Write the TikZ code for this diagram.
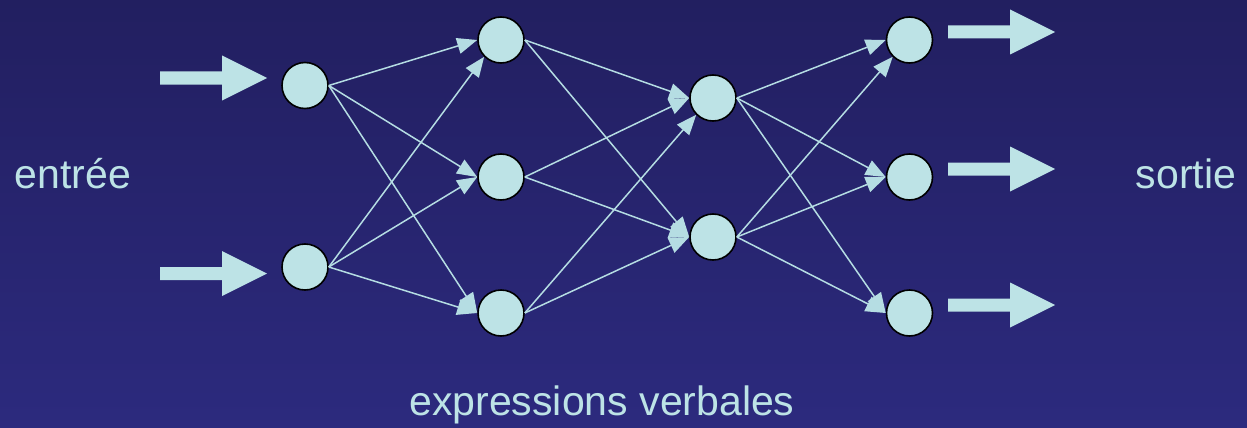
\documentclass[tikz,border=0pt]{standalone}
\usepackage{fontspec}
\setmainfont{Liberation Sans}
\usetikzlibrary{arrows.meta}
\definecolor{bgtop}{HTML}{221F60}
\definecolor{bgbot}{HTML}{2C2A7E}
\definecolor{neuron}{HTML}{BDE3E6}
\definecolor{wire}{HTML}{B5DDE3}
\tikzset{
  unit/.style={circle, minimum size=46pt, inner sep=0pt, fill=neuron, draw=black, line width=1.6pt},
  link/.style={draw=wire, line width=1.5pt, -{Triangle[length=20pt,width=16pt]}},
  label/.style={text=neuron, anchor=base, font=\fontsize{41}{48}\selectfont},
  bigarrow/.style={fill=neuron}
}
% fat block arrow: #1 = tail x, #2 = centre y
\newcommand{\blockarrow}[2]{%
  \path[bigarrow] (#1,#2-6.5) -- ++(62,0) -- ++(0,-16) -- ++(45,22.5) -- ++(-45,22.5) -- ++(0,-16) -- ++(-62,0) -- cycle;}
\begin{document}
\begin{tikzpicture}[x=1pt,y=-1pt]
  \shade[top color=bgtop, bottom color=bgbot] (0,0) rectangle (1247,428);
  \useasboundingbox (0,0) rectangle (1247,428);

  % layers
  \node[unit] (i1) at (305,85.5) {};
  \node[unit] (i2) at (305,267) {};
  \node[unit] (a1) at (501,40) {};
  \node[unit] (a2) at (501,177) {};
  \node[unit] (a3) at (501,313) {};
  \node[unit] (b1) at (713,98) {};
  \node[unit] (b2) at (713,237) {};
  \node[unit] (o1) at (909.5,40) {};
  \node[unit] (o2) at (909.5,177) {};
  \node[unit] (o3) at (909.5,313) {};

  % input -> first hidden layer
  \draw[link] (i1.east) -- (a1.west);
  \draw[link] (i2.east) -- (a1.south west);
  \draw[link] (i1.east) -- (a2.west);
  \draw[link] (i2.east) -- (a2.west);
  \draw[link] (i1.east) -- (a3.west);
  \draw[link] (i2.east) -- (a3.west);

  % first -> second hidden layer
  \draw[link] (a1.east) -- (b1.west);
  \draw[link] (a2.east) -- (b1.west);
  \draw[link] (a3.east) -- (b1.south west);
  \draw[link] (a1.east) -- (b2.west);
  \draw[link] (a2.east) -- (b2.west);
  \draw[link] (a3.east) -- (b2.west);

  % second hidden -> output
  \draw[link] (b1.east) -- (o1.west);
  \draw[link] (b2.east) -- (o1.south west);
  \draw[link] (b1.east) -- (o2.west);
  \draw[link] (b2.east) -- (o2.west);
  \draw[link] (b1.east) -- (o3.west);
  \draw[link] (b2.east) -- (o3.west);

  % block arrows in and out
  \blockarrow{160}{78}
  \blockarrow{160}{273.5}
  \blockarrow{948}{32}
  \blockarrow{948}{169}
  \blockarrow{948}{305}

  \node[label] (in) at (73,188) {entrée};
  \node[label] (out) at (1186,188) {sortie};
  \node[label] (cap) at (602,415) {expressions verbales};
\end{tikzpicture}
\end{document}
